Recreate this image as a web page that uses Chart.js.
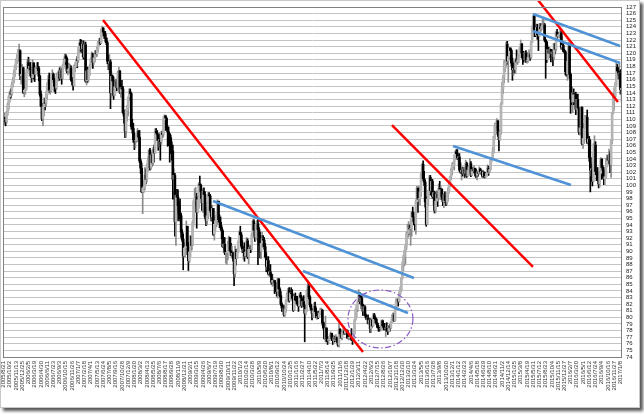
<!DOCTYPE html>
<html>
<head>
<meta charset="utf-8">
<script src="https://cdn.jsdelivr.net/npm/chart.js@4.4.0/dist/chart.umd.min.js"></script>
<style>
html, body { margin: 0; padding: 0; background: #fff; }
#wrap { position: absolute; left: 0; top: 0; width: 638px; height: 406px; border: 1px solid #c8c8c8; box-shadow: 3px 3px 3px #555; background: #fff; }
canvas { display: block; }
</style>
</head>
<body>
<div id="wrap"><canvas id="usdjpy" width="638" height="406"></canvas></div>
<script>
// USD/JPY weekly, from the week of 2005/8/21
var firstOpen = 110.3;

var closes = [
  109.8,109.9,109.6,110.9,112.2,113.4,114.0,113.8,115.3,115.9,
  117.0,117.9,118.9,119.2,120.1,120.4,116.6,116.8,117.8,
  114.1,114.4,114.6,117.1,118.6,117.7,118.0,117.5,116.3,118.5,
  116.9,116.8,117.8,117.8,117.7,116.5,113.8,112.0,110.1,111.9,
  112.6,112.4,113.7,115.0,116.1,114.4,114.4,116.3,116.8,116.0,
  115.0,114.7,116.4,116.7,117.2,116.2,117.4,116.3,118.1,118.7,
  119.6,119.2,117.3,117.5,117.7,117.8,116.0,115.7,115.1,117.9,
  118.0,119.0,
  118.9,120.6,121.5,121.2,120.7,121.4,119.4,121.3,115.8,117.3,
  116.0,117.5,117.9,119.0,120.0,118.6,119.3,120.0,119.9,120.6,
  121.6,121.7,121.5,123.4,123.8,123.2,122.9,122.3,121.6,118.8,
  118.5,118.7,114.0,116.5,115.8,113.6,114.9,115.7,114.8,117.0,
  117.3,114.1,114.8,114.6,111.0,110.5,108.2,111.3,111.7,113.3,
  114.2,113.9,108.9,
  108.6,106.9,106.8,106.8,107.4,108.2,107.3,103.7,102.6,99.0,
  99.6,99.8,101.6,100.9,103.0,103.8,105.3,102.7,104.6,103.4,
  105.5,104.9,108.2,107.9,107.7,106.8,106.9,106.6,107.9,107.7,
  109.9,110.5,110.2,108.8,108.1,107.8,107.2,106.0,105.2,100.9,
  101.5,94.5,98.5,98.2,96.9,95.6,95.4,92.9,91.8,89.3,
  90.5,90.7,
  93.8,90.8,88.6,89.9,92.3,90.9,94.3,97.6,98.1,98.3,
  95.9,97.8,100.2,100.0,99.0,97.3,99.1,98.6,95.3,94.6,
  95.4,98.6,98.4,96.2,95.2,96.5,92.6,94.1,94.6,95.4,
  97.6,94.8,94.4,93.6,93.1,90.7,91.1,89.8,89.8,89.8,
  90.9,92.1,90.1,89.4,89.7,88.9,86.6,90.0,88.9,89.9,
  91.4,92.9,
  92.5,90.8,90.3,90.3,89.3,89.9,91.6,89.2,90.3,90.6,
  90.4,92.5,94.6,93.2,92.1,94.1,94.2,93.3,92.4,90.0,
  91.2,91.9,91.7,90.7,89.2,87.7,88.6,86.6,86.9,86.5,
  85.3,85.6,85.6,85.3,84.2,83.9,85.8,84.3,83.3,82.0,
  81.4,81.4,80.4,81.3,82.5,83.5,84.1,82.5,83.7,83.6,
  82.9,81.1,
  83.2,82.6,82.5,82.1,81.7,83.4,83.0,81.8,82.4,81.8,
  80.6,81.2,84.0,84.8,83.1,81.9,81.2,80.6,81.0,81.7,
  80.9,80.0,80.1,80.0,80.6,80.8,81.1,79.2,78.4,76.8,
  78.4,76.8,76.5,76.7,77.0,77.6,76.8,76.5,76.9,76.7,
  77.0,76.6,75.8,78.2,77.5,76.9,77.7,77.9,77.6,78.0,
  78.0,76.9,
  76.9,76.9,76.9,76.7,76.6,77.6,79.6,81.2,81.8,82.4,
  83.4,82.4,82.9,81.9,80.9,81.6,80.3,79.9,79.9,79.1,
  79.6,78.3,79.6,78.7,80.4,79.8,79.7,79.1,78.5,78.4,
  78.3,78.3,79.5,78.7,78.4,78.2,78.4,78.0,77.9,78.7,
  78.4,79.3,80.0,80.4,79.5,81.3,82.4,82.5,82.4,83.5,
  84.2,85.9,88.1,
  89.2,90.1,90.8,92.7,92.7,93.5,93.4,93.5,95.9,95.2,
  94.5,94.2,97.5,99.6,97.9,98.0,99.0,101.6,103.2,101.0,
  100.5,97.5,94.1,97.9,99.2,101.2,99.2,100.6,98.3,98.9,
  96.2,97.6,98.7,98.1,99.6,99.4,99.4,98.3,97.5,98.6,
  97.7,97.4,98.7,99.1,100.2,101.3,102.4,102.9,103.2,104.1,
  105.1,104.8,
  104.2,104.3,102.3,102.0,102.3,101.8,102.5,101.8,103.3,101.4,
  102.3,102.8,103.3,101.5,102.4,102.2,102.6,101.8,101.5,101.9,
  101.8,102.5,102.0,102.1,101.4,102.0,101.3,101.3,101.8,102.6,
  102.0,102.4,103.9,104.1,105.1,107.4,109.0,109.3,109.8,107.7,
  106.9,108.1,112.3,114.6,116.3,117.7,118.6,121.4,118.8,119.5,
  120.8,120.4,
  118.5,117.5,117.7,117.5,119.1,118.7,119.0,119.6,120.8,121.4,
  120.0,119.2,119.0,120.1,118.9,118.9,119.4,119.8,119.4,121.6,
  124.1,125.6,123.4,122.7,123.9,122.8,122.6,124.0,123.7,124.0,
  124.2,124.3,122.0,121.7,119.0,120.6,120.0,120.6,119.9,120.2,
  119.4,121.5,120.6,123.2,122.6,122.8,122.8,123.1,120.9,121.2,
  120.3,120.2,
  117.2,116.9,118.8,121.1,116.8,113.1,112.6,114.0,113.8,113.8,
  111.5,113.0,111.7,108.1,108.7,111.8,106.3,107.1,108.6,110.2,
  110.3,106.5,107.0,104.2,102.3,102.5,100.6,104.8,106.1,102.1,
  101.8,101.3,100.2,101.8,104.0,102.7,102.3,101.0,101.3,102.9,
  104.2,103.8,104.7,103.1,106.7,110.9,113.2,113.5,115.3,117.9,
  117.3,117.0,117.0,114.5,114.7
];

var highs = [
  110.7,111.0,110.3,111.2,112.5,113.6,114.3,114.6,115.6,116.3,
  117.5,118.2,119.1,119.8,120.6,121.4,120.5,117.8,118.3,
  117.9,115.0,115.9,117.5,119.0,119.4,119.1,118.6,117.8,119.0,
  118.6,117.8,118.1,118.6,118.6,118.0,116.7,114.3,112.4,112.2,
  113.2,113.2,114.2,115.5,116.6,117.0,115.3,116.9,117.5,117.0,
  116.2,115.4,116.9,117.1,117.4,117.8,118.0,117.7,118.3,119.2,
  119.9,119.8,119.4,118.0,118.5,118.3,118.1,116.3,116.1,118.2,
  118.6,119.1,
  119.5,120.9,121.7,122.1,122.0,121.8,121.9,121.6,121.7,118.0,
  117.9,117.8,118.3,119.3,120.2,119.9,119.6,120.4,120.4,121.0,
  121.8,122.2,122.3,123.7,124.1,123.9,123.3,123.3,122.3,121.8,
  119.7,119.8,119.0,117.2,116.7,116.4,115.3,116.1,116.0,117.3,
  117.9,117.4,115.3,115.9,115.0,111.4,110.5,111.5,112.1,113.4,
  114.6,114.6,114.0,
  110.0,109.4,107.9,107.4,107.8,108.6,108.3,108.3,104.0,103.4,
  100.6,100.8,102.7,102.5,103.2,104.2,105.4,105.6,105.0,104.7,
  105.7,106.1,108.6,108.6,108.3,107.2,108.0,107.2,108.2,108.2,
  110.4,110.7,110.6,110.0,109.0,108.8,107.8,107.6,106.6,106.1,
  102.5,101.8,98.7,99.4,99.3,97.5,97.9,95.8,93.3,92.6,
  91.3,91.2,
  94.6,93.8,91.3,90.6,92.4,92.3,94.6,97.8,99.5,99.7,
  98.8,98.8,100.4,101.4,100.2,99.3,99.5,99.6,99.0,96.7,
  97.5,98.9,98.9,98.6,96.8,97.0,96.5,94.5,95.4,95.9,
  97.8,97.4,95.5,95.2,93.9,93.3,91.6,92.1,90.1,90.0,
  91.5,92.3,92.1,91.2,90.8,89.9,89.2,90.8,90.3,90.4,
  91.6,93.1,
  93.8,92.8,91.6,90.8,91.3,90.4,92.1,91.9,90.4,90.9,
  90.9,92.8,94.8,94.8,93.5,94.2,94.7,95.0,93.6,92.9,
  91.4,92.9,92.4,92.1,91.2,89.8,88.9,89.2,87.3,88.0,
  86.6,86.5,85.8,85.4,85.1,84.5,85.9,85.9,84.5,83.9,
  82.2,81.9,81.8,81.5,82.7,83.7,84.4,84.5,84.0,84.5,
  84.2,83.1,
  83.5,83.7,83.2,83.2,82.3,83.6,83.8,83.2,83.1,83.3,
  82.0,81.8,84.2,85.5,85.3,83.3,82.0,81.4,81.3,82.2,
  82.3,81.4,80.5,80.9,80.8,81.4,81.4,81.2,79.3,78.5,
  80.2,78.4,77.0,77.1,77.4,77.8,77.4,77.1,77.3,77.1,
  77.4,77.0,76.6,79.6,78.3,77.5,77.8,78.3,78.0,78.2,
  78.2,78.1,
  77.3,77.2,77.2,78.3,76.9,77.9,79.7,81.3,81.9,82.5,
  84.2,83.8,83.3,83.3,82.0,81.8,81.8,80.5,80.3,80.4,
  79.8,79.8,79.8,79.7,80.6,80.6,80.1,79.9,79.2,78.8,
  78.5,78.8,79.6,79.6,78.8,79.1,78.8,79.2,78.2,78.8,
  78.9,79.4,80.4,80.7,80.6,81.6,82.8,82.8,82.8,83.9,
  84.6,86.0,88.4,
  89.4,90.2,91.0,92.9,94.1,94.5,94.0,94.8,96.0,96.7,
  95.9,94.9,97.8,99.9,99.2,99.9,99.3,101.9,103.3,103.7,
  102.1,100.8,98.2,98.4,99.3,101.5,101.5,100.9,100.9,99.2,
  99.1,98.4,99.2,99.1,100.2,100.6,99.9,99.5,98.3,98.8,
  99.0,98.5,98.9,99.6,100.4,101.4,102.6,103.4,103.5,104.6,
  105.2,105.4,
  105.4,104.9,104.8,103.4,102.8,102.7,102.8,102.7,103.8,103.5,
  102.7,103.0,104.1,103.6,102.6,102.7,103.0,102.3,102.4,102.2,
  102.0,102.8,102.6,102.4,102.2,102.3,102.0,101.8,102.0,103.1,
  102.9,102.7,104.1,104.2,105.7,107.4,109.4,109.5,110.1,109.1,
  108.0,108.4,112.5,115.6,116.6,118.9,118.9,121.7,121.8,119.7,
  120.9,120.8,
  120.6,119.3,118.9,118.7,119.2,120.5,119.5,119.8,120.9,122.0,
  121.5,120.2,120.3,120.3,120.4,120.1,120.0,120.5,120.0,121.8,
  124.2,125.8,125.7,123.9,124.4,124.4,123.1,124.5,124.5,124.5,
  125.1,125.3,124.5,122.1,121.8,121.2,120.9,120.8,120.6,120.6,
  120.5,121.5,121.5,123.3,123.6,123.2,123.1,123.7,123.3,122.6,
  121.6,120.6,
  120.4,118.3,118.9,121.7,121.5,117.0,114.9,114.2,114.6,114.1,
  114.1,113.3,113.8,111.8,109.7,111.9,111.9,107.5,109.4,110.6,
  110.6,111.4,107.8,107.4,106.8,103.4,103.1,106.3,107.5,106.6,
  102.2,102.7,101.4,102.1,104.2,104.0,103.0,102.7,101.8,104.1,
  104.6,104.5,105.5,105.1,106.9,111.0,113.9,114.8,115.6,118.7,
  118.3,117.8,118.6,117.5,115.3
];

var lows = [
  109.2,109.3,109.0,109.4,110.6,111.4,112.6,113.2,113.6,114.9,
  115.5,116.5,117.5,118.4,118.8,119.3,116.0,115.3,116.6,
  113.9,113.4,113.8,114.4,117.0,117.4,116.5,116.6,115.6,115.8,
  116.1,115.7,116.7,116.9,117.4,115.8,113.5,111.9,109.8,109.0,
  110.5,111.4,111.9,113.0,114.7,114.0,113.8,114.2,116.0,115.6,
  114.2,113.9,114.5,115.8,115.8,115.9,116.2,115.3,116.1,117.7,
  118.7,118.3,117.0,116.7,117.0,117.3,115.8,115.2,114.4,115.0,
  117.2,117.8,
  117.8,118.6,120.0,120.3,120.1,119.5,119.1,119.4,115.6,115.2,
  115.6,115.8,116.6,117.8,118.5,117.7,118.3,118.7,119.5,119.5,
  120.2,121.1,121.3,121.5,122.9,122.6,122.2,121.7,121.3,118.4,
  117.5,117.0,111.6,113.3,114.0,113.0,113.6,114.4,114.3,114.6,
  116.6,113.9,113.3,114.0,110.9,109.4,107.2,107.3,109.7,110.5,
  112.8,113.0,108.5,
  107.9,106.5,105.4,105.7,106.5,106.6,106.9,103.4,101.8,98.9,
  95.7,98.9,99.3,100.2,100.5,102.1,102.9,102.3,102.4,102.9,
  103.0,103.5,104.9,106.8,107.1,105.3,105.8,103.8,106.2,107.2,
  107.4,108.8,108.3,108.4,105.9,106.0,103.5,104.8,103.8,97.9,
  99.2,92.3,90.9,96.0,94.6,94.9,94.6,92.1,91.5,87.2,
  89.1,89.2,
  90.3,89.5,87.1,88.3,89.2,90.2,90.9,93.8,96.4,97.0,
  93.5,95.8,96.5,99.4,98.0,96.2,95.9,97.7,95.0,93.9,
  94.0,94.9,96.2,95.9,94.6,94.7,92.4,91.7,93.1,93.7,
  94.1,94.5,93.6,93.3,91.9,90.6,90.2,89.5,88.2,88.0,
  88.7,90.1,90.0,89.3,89.2,88.5,84.8,86.1,87.9,88.9,
  89.8,91.3,
  91.6,90.5,89.8,88.8,88.5,89.0,89.9,88.9,88.1,89.9,
  89.8,90.2,92.3,92.8,91.5,91.7,93.0,88.0,90.9,89.0,
  88.9,90.6,90.8,90.3,89.0,86.9,87.2,86.4,86.2,86.2,
  85.0,84.7,84.9,83.6,83.9,83.2,82.9,84.1,83.1,81.8,
  80.9,80.9,80.2,80.2,80.8,82.4,82.9,82.3,82.7,83.3,
  82.6,80.9,
  81.0,82.1,82.0,81.8,80.9,81.6,82.9,81.5,81.6,81.6,
  76.3,80.4,80.9,83.6,82.8,81.6,81.1,79.6,80.0,80.8,
  80.9,79.9,79.7,79.8,80.0,80.4,80.6,78.8,78.2,76.7,
  76.3,76.3,75.9,76.1,76.5,76.7,76.5,75.9,76.1,76.3,
  76.5,76.2,75.6,75.5,77.3,76.8,76.6,77.4,77.4,77.4,
  77.8,76.8,
  76.6,76.6,76.6,76.5,75.9,76.3,77.4,79.6,80.0,80.9,
  82.0,82.1,81.3,81.8,80.3,80.6,80.2,79.7,79.6,79.0,
  79.0,77.7,77.7,78.5,78.8,79.2,79.4,78.9,78.4,77.9,
  77.9,78.0,78.2,78.4,78.1,78.1,77.1,77.9,77.4,77.8,
  77.9,78.3,79.2,79.3,79.4,79.4,81.2,81.7,81.7,82.3,
  83.5,84.0,85.8,
  87.1,87.8,88.1,90.3,91.9,92.2,92.6,90.9,92.3,94.9,
  94.0,93.2,92.6,97.4,95.9,97.7,97.0,98.3,101.0,100.7,
  100.0,96.7,93.8,94.1,96.9,99.0,98.5,98.9,98.0,97.0,
  95.8,95.8,96.9,96.8,97.8,98.6,97.8,97.9,96.9,96.6,
  97.4,96.9,97.1,97.6,98.8,99.8,100.9,101.6,102.5,102.3,
  103.9,104.1,
  103.9,102.9,102.1,101.8,100.8,101.4,101.6,101.2,101.2,101.2,
  101.4,101.9,102.9,101.3,101.5,101.9,102.1,101.4,101.1,100.8,
  101.4,101.8,101.7,101.8,101.2,101.2,101.1,101.1,101.3,101.8,
  101.5,101.9,102.3,103.5,104.0,104.9,107.0,108.3,108.8,107.4,
  105.2,106.8,107.7,112.3,113.9,115.5,117.2,117.9,118.3,115.6,
  119.1,119.0,
  118.1,115.9,116.6,117.0,116.9,118.4,118.3,118.6,119.3,120.7,
  119.3,118.3,118.7,118.7,118.6,118.5,118.6,118.9,118.9,119.2,
  121.6,123.8,122.5,122.5,122.9,122.1,120.4,122.7,123.3,123.5,
  123.8,123.9,121.8,116.2,118.6,119.2,119.3,119.6,118.7,119.6,
  118.1,119.0,119.9,120.3,122.2,122.5,122.3,122.3,120.6,120.7,
  120.2,120.0,
  116.7,116.5,115.9,118.4,116.2,110.9,112.2,111.0,112.2,112.2,
  110.7,111.6,111.6,107.7,107.6,107.9,106.1,105.6,106.3,108.7,
  109.2,106.3,106.2,103.6,99.0,101.4,99.9,100.6,104.6,101.6,
  100.7,100.8,99.6,99.7,101.3,100.9,101.2,100.1,100.1,101.0,
  102.8,103.3,103.7,101.9,101.2,106.3,110.8,111.4,113.1,115.1,
  116.6,116.1,115.1,113.8,112.6
];

// one label every 6 weeks
var tickLabels = [
  "2005/8/21","2005/10/2","2005/11/13","2005/12/25","2006/2/5","2006/3/19","2006/4/30","2006/6/11","2006/7/23","2006/9/3",
  "2006/10/15","2006/11/26","2007/1/7","2007/2/18","2007/4/1","2007/5/13","2007/6/24","2007/8/5","2007/9/16","2007/10/28",
  "2007/12/9","2008/1/20","2008/3/2","2008/4/13","2008/5/25","2008/7/6","2008/8/17","2008/9/28","2008/11/9","2008/12/21",
  "2009/2/1","2009/3/15","2009/4/26","2009/6/7","2009/7/19","2009/8/30","2009/10/11","2009/11/22","2010/1/3","2010/2/14",
  "2010/3/28","2010/5/9","2010/6/20","2010/8/1","2010/9/12","2010/10/24","2010/12/5","2011/1/16","2011/2/27","2011/4/10",
  "2011/5/22","2011/7/3","2011/8/14","2011/9/25","2011/11/6","2011/12/18","2012/1/29","2012/3/11","2012/4/22","2012/6/3",
  "2012/7/15","2012/8/26","2012/10/7","2012/11/18","2012/12/30","2013/2/10","2013/3/24","2013/5/5","2013/6/16","2013/7/28",
  "2013/9/8","2013/10/20","2013/12/1","2014/1/12","2014/2/23","2014/4/6","2014/5/18","2014/6/29","2014/8/10","2014/9/21",
  "2014/11/2","2014/12/14","2015/1/25","2015/3/8","2015/4/19","2015/5/31","2015/7/12","2015/8/23","2015/10/4","2015/11/15",
  "2015/12/27","2016/2/7","2016/3/20","2016/5/1","2016/6/12","2016/7/24","2016/9/4","2016/10/16","2016/11/27","2017/1/8"
];

// trend lines: [week index, price] end points
var redLines = [
  [[95.8, 125.03], [346.1, 74.76]],
  [[374.0, 109.13], [509.8, 87.63]],
  [[514.6, 128.06], [591.6, 112.61]]
];
var blueLines = [
  [[201.7, 97.62], [395.2, 85.96]],
  [[288.3, 87.02], [389.4, 80.66]],
  [[432.8, 105.95], [546.4, 100.05]],
  [[509.8, 125.94], [593.6, 121.09]],
  [[509.8, 123.37], [593.6, 118.52]]
];
// dashed ring around the 2012 range: centre week, centre price, half width (weeks), half height (price)
var ring = { week: 362.9, price: 79.76, halfWeeks: 31.3, halfPrice: 4.39 };

var n = Math.min(closes.length, highs.length, lows.length);
var weeks = [];
var start = Date.UTC(2005, 7, 21);
for (var i = 0; i < n; i++) {
  var d = new Date(start + i * 7 * 86400000);
  weeks.push(d.getUTCFullYear() + "/" + (d.getUTCMonth() + 1) + "/" + d.getUTCDate());
}
var opens = [], up = [];
for (var i = 0; i < n; i++) {
  opens.push(i === 0 ? firstOpen : closes[i - 1]);
  up.push(closes[i] >= opens[i]);
}

var wickData = [], bodyData = [], wickColors = [], bodyColors = [];
for (var i = 0; i < n; i++) {
  wickData.push([lows[i], highs[i]]);
  bodyData.push([opens[i], closes[i]]);
  wickColors.push(up[i] ? "#8c8c8c" : "#000000");
  bodyColors.push(up[i] ? "#b4b4b4" : "#000000");
}

function lineSet(pts, color) {
  return {
    type: "line",
    xAxisID: "xl",
    data: pts.map(function(p) { return { x: p[0], y: p[1] }; }),
    borderColor: color,
    borderWidth: 2.5,
    pointRadius: 0,
    tension: 0,
    clip: false,
    order: 0
  };
}

var datasets = [
  { type: "bar", data: wickData, backgroundColor: wickColors, barThickness: 1, grouped: false, borderWidth: 0, order: 3 },
  { type: "bar", data: bodyData, backgroundColor: bodyColors, barThickness: 2, grouped: false, borderWidth: 0, order: 2 }
];
blueLines.forEach(function(l) { datasets.push(lineSet(l, "#4f93d6")); });
redLines.forEach(function(l) { datasets.push(lineSet(l, "#ff0000")); });

var framePlugin = {
  id: "frame",
  afterDraw: function(chart) {
    var a = chart.chartArea, ctx = chart.ctx;
    ctx.save();
    ctx.strokeStyle = "#808080";
    ctx.lineWidth = 1;
    ctx.strokeRect(Math.round(a.left) + 0.5, Math.round(a.top) + 0.5, Math.round(a.right - a.left) - 1, Math.round(a.bottom - a.top));
    ctx.restore();
  }
};

var ringPlugin = {
  id: "ring",
  afterDatasetsDraw: function(chart) {
    var xs = chart.scales.xl, ys = chart.scales.y, ctx = chart.ctx;
    var cx = xs.getPixelForValue(ring.week), cy = ys.getPixelForValue(ring.price);
    var rx = Math.abs(xs.getPixelForValue(ring.week + ring.halfWeeks) - cx);
    var ry = Math.abs(ys.getPixelForValue(ring.price + ring.halfPrice) - cy);
    ctx.save();
    ctx.strokeStyle = "#8a5cc4";
    ctx.lineWidth = 1.2;
    ctx.setLineDash([6, 2.5, 1.5, 2.5]);
    ctx.beginPath();
    ctx.ellipse(cx, cy, rx, ry, 0, 0, Math.PI * 2);
    ctx.stroke();
    ctx.restore();
  }
};

new Chart(document.getElementById("usdjpy").getContext("2d"), {
  type: "bar",
  data: { labels: weeks, datasets: datasets },
  options: {
    responsive: false,
    animation: false,
    layout: { padding: { left: 2, top: 6, right: 0, bottom: 0 } },
    plugins: { legend: { display: false }, tooltip: { enabled: false } },
    scales: {
      x: {
        type: "category",
        offset: true,
        grid: { display: false, drawTicks: false },
        border: { display: false },
        ticks: {
          autoSkip: false,
          maxRotation: 90,
          minRotation: 90,
          padding: 4,
          color: "#333",
          font: { family: "Liberation Sans", size: 6 },
          callback: function(v, idx) { return idx % 6 === 0 ? tickLabels[idx / 6] : null; }
        },
        afterFit: function(s) { s.height = 50; s.paddingLeft = 0; s.paddingRight = 0; }
      },
      xl: {
        type: "linear",
        display: false,
        offset: false,
        bounds: "data",
        min: -0.5,
        max: n - 0.5
      },
      y: {
        position: "right",
        min: 74,
        max: 127,
        grid: { color: "#c4c4c4", lineWidth: 1, drawTicks: false },
        border: { display: false },
        ticks: {
          stepSize: 1,
          autoSkip: false,
          padding: 4,
          color: "#222",
          font: { family: "Liberation Sans", size: 6 }
        },
        afterFit: function(s) { s.width = 17; s.paddingTop = 0; s.paddingBottom = 0; }
      }
    }
  },
  plugins: [framePlugin, ringPlugin]
});
</script>
</body>
</html>
